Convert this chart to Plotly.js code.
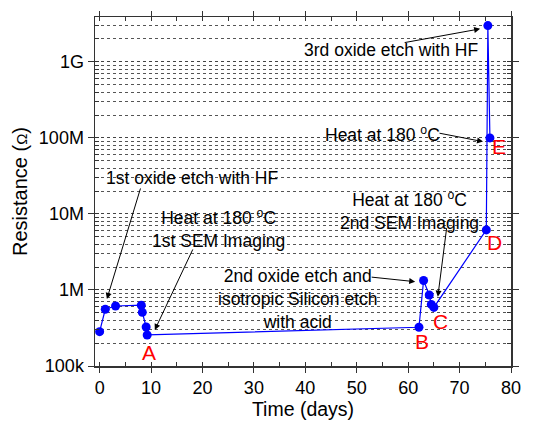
<!DOCTYPE html>
<html><head><meta charset="utf-8">
<script src="https://cdn.plot.ly/plotly-3.0.1.min.js"></script>
<style>html,body{margin:0;padding:0;background:#fff}</style>
</head><body>
<div id="chart" style="width:544px;height:421px"></div>
<script>
// Data
const days = [0, 1.1, 3.1, 8.1, 8.3, 9.05, 9.25, 62.1, 63.0, 64.1, 64.5, 65.0, 75.2, 75.5, 75.9];
const resistance = [2.83e5, 5.57e5, 6.15e5, 6.3e5, 5.08e5, 3.26e5, 2.56e5, 3.23e5, 1.33e6, 8.6e5, 6.46e5, 5.9e5, 6.16e6, 3.0e9, 1.0e8];
const yTickVals = [1e5, 1e6, 1e7, 1e8, 1e9];
const yTickText = ["100k", "1M", "10M", "100M", "1G"];
const xTickVals = [0, 10, 20, 30, 40, 50, 60, 70, 80];

// Point labels
const labelText = ["A", "B", "C", "D", "E"];
const labelX = [9.58, 62.67, 66.36, 76.7, 77.67];
const labelY = [5.175, 5.316, 5.583, 6.622, 7.886];

// Notes
const noteText = [
  "1st oxide etch with HF",
  "Heat at 180 <sup>o</sup>C<br>1st SEM Imaging",
  "2nd oxide etch and<br>isotropic Silicon etch<br>with acid",
  "Heat at 180 <sup>o</sup>C<br>2nd SEM Imaging",
  "Heat at 180 <sup>o</sup>C",
  "3rd oxide etch with HF"
];
const noteX = [18.05, 23.1, 38.5, 60.2, 55.0, 56.6];
const noteY = [7.474, 6.803, 5.882, 7.039, 8.053, 9.158];

// Arrows (head in data, tail offset in px)
const arrowX = [1.42, 10.73, 61.37, 65.77, 74.56, 74.0];
const arrowY = [5.882, 5.474, 6.109, 5.912, 7.951, 9.434];
const arrowAX = [34, 38.7, -45, 9, -45, -77];
const arrowAY = [-112, -82, -4.7, -70, -8.7, 14];

const font = "Liberation Sans, Arial, sans-serif";
const annotations = [];
for (let i = 0; i < noteText.length; i++) {
  annotations.push({x: noteX[i], y: noteY[i], xref: 'x', yref: 'y', text: noteText[i],
    showarrow: false, align: 'center', font: {family: font, size: 17.5, color: '#000'}});
}
for (let i = 0; i < arrowX.length; i++) {
  annotations.push({x: arrowX[i], y: arrowY[i], xref: 'x', yref: 'y', text: '',
    showarrow: true, arrowhead: 2, arrowsize: 1.2, arrowwidth: 1, arrowcolor: '#000',
    ax: arrowAX[i], ay: arrowAY[i], standoff: 0});
}
for (let i = 0; i < labelText.length; i++) {
  annotations.push({x: labelX[i], y: labelY[i], xref: 'x', yref: 'y', text: labelText[i],
    showarrow: false, font: {family: font, size: 21, color: '#ff0000'}});
}

const trace = {
  x: days, y: resistance, type: 'scatter', mode: 'lines+markers',
  line: {color: '#0000ff', width: 1.2},
  marker: {color: '#0000ff', size: 9},
  cliponaxis: false
};

const layout = {
  width: 544, height: 421,
  margin: {l: 95, r: 33, t: 17, b: 55},
  paper_bgcolor: '#fff', plot_bgcolor: '#fff',
  showlegend: false,
  font: {family: font, size: 18, color: '#000'},
  xaxis: {
    range: [-0.9, 80], tickvals: xTickVals, ticks: 'outside', ticklen: 5, tickwidth: 1,
    tickcolor: '#333', showgrid: false, zeroline: false, showline: true, linecolor: '#333',
    linewidth: 1.5, mirror: 'ticks',
    minor: {dtick: 5, tick0: 0, ticks: 'inside', ticklen: 4, tickcolor: '#333', showgrid: false},
    tickfont: {size: 18},
    title: {text: 'Time (days)', font: {size: 19.5}, standoff: 4}
  },
  yaxis: {
    type: 'log', range: [5, 9.59], tickvals: yTickVals, ticktext: yTickText,
    ticks: 'outside', ticklen: 6, tickwidth: 1, tickcolor: '#333',
    showgrid: true, gridcolor: '#444', griddash: 'dot', gridwidth: 1,
    zeroline: false, showline: true, linecolor: '#333', linewidth: 1.5, mirror: 'ticks',
    minor: {dtick: 'D1', ticks: 'inside', ticklen: 4, tickcolor: '#333', showgrid: true,
            gridcolor: '#555', griddash: 'dot', gridwidth: 1},
    tickfont: {size: 18},
    title: {text: 'Resistance (<span style="font-size:15px">Ω</span>)', font: {size: 20}, standoff: 6}
  },
  annotations: annotations
};

Plotly.newPlot('chart', [trace], layout, {displayModeBar: false, staticPlot: true});
</script>
</body></html>
